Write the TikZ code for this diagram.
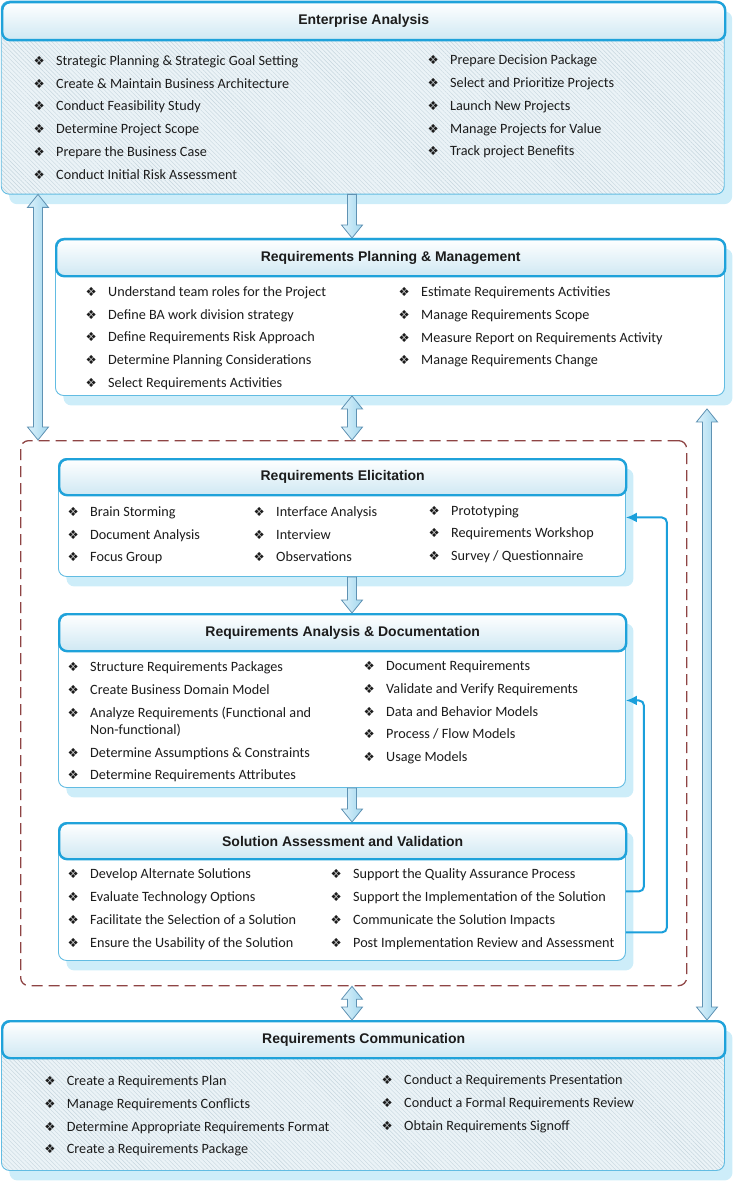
\documentclass[tikz,border=0pt]{standalone}
\usepackage{fontspec}
\setmainfont{Carlito}
\newfontfamily\titlefont{Liberation Sans}
\newfontfamily\dingfont{DejaVu Sans}
\usetikzlibrary{shadows,patterns.meta,calc,arrows.meta}
\definecolor{headb}{HTML}{1FA2DA}
\definecolor{headbot}{HTML}{CFE8F3}
\definecolor{bodyb}{HTML}{62BCE2}
\definecolor{shadowc}{HTML}{CDEDF9}
\definecolor{hatchbg}{HTML}{EBF3F7}
\definecolor{hatchln}{HTML}{C6D5DE}
\definecolor{dashc}{HTML}{8E4444}
\definecolor{fbc}{HTML}{1A9FDB}
\definecolor{arrL}{HTML}{DDF2FB}
\definecolor{arrR}{HTML}{A3D7EE}
\definecolor{arrline}{HTML}{5F92B3}
\definecolor{textc}{HTML}{1C1C1C}
\newcommand\bul{{\dingfont\fontsize{12.5}{13}\selectfont ❖}}
\newcommand\itm[4]{\node[item] (#1) at (#2,#3) {\llap{\makebox[34pt]{\bul}}#4};}
\newcommand\cont[4]{\node[item] (#1) at (#2,#3) {#4};}
\newcommand\sdown[2]{\draw[blk] let \p1=#1, \p2=#2 in
  (\x1-4.5pt,\y1) -- (\x1+4.5pt,\y1) -- (\x1+4.5pt,\y2+13pt) -- (\x1+10.5pt,\y2+13pt)
  -- (\x1,\y2) -- (\x1-10.5pt,\y2+13pt) -- (\x1-4.5pt,\y2+13pt) -- cycle;}
\newcommand\ddbl[2]{\draw[blk] let \p1=#1, \p2=#2 in
  (\x1,\y1) -- (\x1+10.5pt,\y1-13pt) -- (\x1+4.5pt,\y1-13pt) -- (\x1+4.5pt,\y2+13pt)
  -- (\x1+10.5pt,\y2+13pt) -- (\x1,\y2) -- (\x1-10.5pt,\y2+13pt) -- (\x1-4.5pt,\y2+13pt)
  -- (\x1-4.5pt,\y1-13pt) -- (\x1-10.5pt,\y1-13pt) -- cycle;}
\begin{document}
\begin{tikzpicture}[x=1pt,y=-1pt,
  body/.style={draw=bodyb, line width=0.9pt, rounded corners=8pt, anchor=north west, inner sep=0pt,
    general shadow={fill=shadowc, shadow xshift=8pt, shadow yshift=-10pt}},
  hatched/.style={preaction={fill=hatchbg}, pattern={Lines[angle=-45,distance=3pt,line width=0.4pt]}, pattern color=hatchln},
  plain/.style={fill=white},
  header/.style={draw=headb, line width=2.4pt, rounded corners=8pt, anchor=north west, inner sep=0pt,
    top color=white, bottom color=headbot, text=textc,
    font=\titlefont\bfseries\fontsize{14}{16}\selectfont},
  item/.style={anchor=base west, inner sep=0pt, text=textc, font=\fontsize{14.2}{16}\selectfont},
  blk/.style={draw=arrline, line width=0.8pt, left color=arrL, right color=arrR},
  fb/.style={draw=fbc, line width=2pt, rounded corners=5pt, -{Latex[length=11pt,width=10pt]}},
  dashbox/.style={draw=dashc, line width=1.3pt, dash pattern=on 11pt off 6pt, rounded corners=8pt, anchor=north west, inner sep=0pt}
]
\useasboundingbox (0,0) rectangle (736,1182);

% dashed group
\node[dashbox, minimum width=666pt, minimum height=545pt] (dash) at (20,440) {};

% boxes
\node[body, hatched, minimum width=723pt, minimum height=193pt] (ea) at (1,1) {};
\node[header, minimum width=723pt, minimum height=38pt] (eah) at (1,1) {Enterprise Analysis};

\node[body, plain, minimum width=669pt, minimum height=157pt] (rpm) at (55,238) {};
\node[header, minimum width=669pt, minimum height=37pt] (rpmh) at (55,238) {Requirements Planning \& Management};

\node[body, plain, minimum width=567pt, minimum height=118pt] (re) at (58,458) {};
\node[header, minimum width=567pt, minimum height=36pt] (reh) at (58,458) {Requirements Elicitation};

\node[body, plain, minimum width=567pt, minimum height=174pt] (rad) at (58,613) {};
\node[header, minimum width=567pt, minimum height=37pt] (radh) at (58,613) {Requirements Analysis \& Documentation};

\node[body, plain, minimum width=567pt, minimum height=138pt] (sav) at (58,822) {};
\node[header, minimum width=567pt, minimum height=36pt] (savh) at (58,822) {Solution Assessment and Validation};

\node[body, hatched, minimum width=723pt, minimum height=150pt] (rc) at (1,1020) {};
\node[header, minimum width=723pt, minimum height=37pt] (rch) at (1,1020) {Requirements Communication};

% Enterprise Analysis items
\itm{ea1}{56}{65.3}{Strategic Planning \& Strategic Goal Setting}
\itm{ea2}{56}{88.1}{Create \& Maintain Business Architecture}
\itm{ea3}{56}{110.9}{Conduct Feasibility Study}
\itm{ea4}{56}{133.7}{Determine Project Scope}
\itm{ea5}{56}{156.5}{Prepare the Business Case}
\itm{ea6}{56}{179.3}{Conduct Initial Risk Assessment}
\itm{ea7}{450}{64.8}{Prepare Decision Package}
\itm{ea8}{450}{87.6}{Select and Prioritize Projects}
\itm{ea9}{450}{110.4}{Launch New Projects}
\itm{ea10}{450}{133.2}{Manage Projects for Value}
\itm{ea11}{450}{156}{Track project Benefits}

% Planning items
\itm{rp1}{108}{296.2}{Understand team roles for the Project}
\itm{rp2}{108}{319}{Define BA work division strategy}
\itm{rp3}{108}{341.8}{Define Requirements Risk Approach}
\itm{rp4}{108}{364.6}{Determine Planning Considerations}
\itm{rp5}{108}{387.4}{Select Requirements Activities}
\itm{rp6}{421}{296.5}{Estimate Requirements Activities}
\itm{rp7}{421}{319.3}{Manage Requirements Scope}
\itm{rp8}{421}{342.1}{Measure Report on Requirements Activity}
\itm{rp9}{421}{364.9}{Manage Requirements Change}

% Elicitation items
\itm{re1}{90}{516.2}{Brain Storming}
\itm{re2}{90}{539}{Document Analysis}
\itm{re3}{90}{561.8}{Focus Group}
\itm{re4}{276}{516.2}{Interface Analysis}
\itm{re5}{276}{539}{Interview}
\itm{re6}{276}{561.8}{Observations}
\itm{re7}{451}{515}{Prototyping}
\itm{re8}{451}{537.8}{Requirements Workshop}
\itm{re9}{451}{560.6}{Survey / Questionnaire}

% Analysis items
\itm{ra1}{90}{671.4}{Structure Requirements Packages}
\itm{ra2}{90}{694.2}{Create Business Domain Model}
\itm{ra3}{90}{717}{Analyze Requirements (Functional and}
\cont{ra3b}{90}{734}{Non-functional)}
\itm{ra4}{90}{757}{Determine Assumptions \& Constraints}
\itm{ra5}{90}{779.8}{Determine Requirements Attributes}
\itm{ra6}{386}{670.5}{Document Requirements}
\itm{ra7}{386}{693.3}{Validate and Verify Requirements}
\itm{ra8}{386}{716.1}{Data and Behavior Models}
\itm{ra9}{386}{738.9}{Process / Flow Models}
\itm{ra10}{386}{761.7}{Usage Models}

% Solution items
\itm{sv1}{90}{878.8}{Develop Alternate Solutions}
\itm{sv2}{90}{901.6}{Evaluate Technology Options}
\itm{sv3}{90}{924.4}{Facilitate the Selection of a Solution}
\itm{sv4}{90}{947.2}{Ensure the Usability of the Solution}
\itm{sv5}{353}{878.8}{Support the Quality Assurance Process}
\itm{sv6}{353}{901.6}{Support the Implementation of the Solution}
\itm{sv7}{353}{924.4}{Communicate the Solution Impacts}
\itm{sv8}{353}{947.2}{Post Implementation Review and Assessment}

% Communication items
\itm{rc1}{66.7}{1085.5}{Create a Requirements Plan}
\itm{rc2}{66.7}{1108.3}{Manage Requirements Conflicts}
\itm{rc3}{66.7}{1131.1}{Determine Appropriate Requirements Format}
\itm{rc4}{66.7}{1153.9}{Create a Requirements Package}
\itm{rc5}{404}{1084.5}{Conduct a Requirements Presentation}
\itm{rc6}{404}{1107.3}{Conduct a Formal Requirements Review}
\itm{rc7}{404}{1130.1}{Obtain Requirements Signoff}

% block arrows
\coordinate (cx) at (352,0);
\coordinate (lx) at (38,0);
\coordinate (rx) at (707,0);
\sdown{(ea.south -| cx)}{(rpmh.north -| cx)}
\ddbl{(rpm.south -| cx)}{(dash.north -| cx)}
\sdown{(re.south -| cx)}{(radh.north -| cx)}
\sdown{(rad.south -| cx)}{(savh.north -| cx)}
\ddbl{(dash.south -| cx)}{(rch.north -| cx)}
\ddbl{(ea.south -| lx)}{(dash.north -| lx)}
\ddbl{($(rpm.south -| rx)+(0,13)$)}{(rch.north -| rx)}

% feedback arrows
\draw[fb] (sav.east) -- ++(18,0) |- (rad.east);
\draw[fb] ($(sav.east)+(0,41)$) -- ++(41,0) |- (re.east);
\end{tikzpicture}
\end{document}
